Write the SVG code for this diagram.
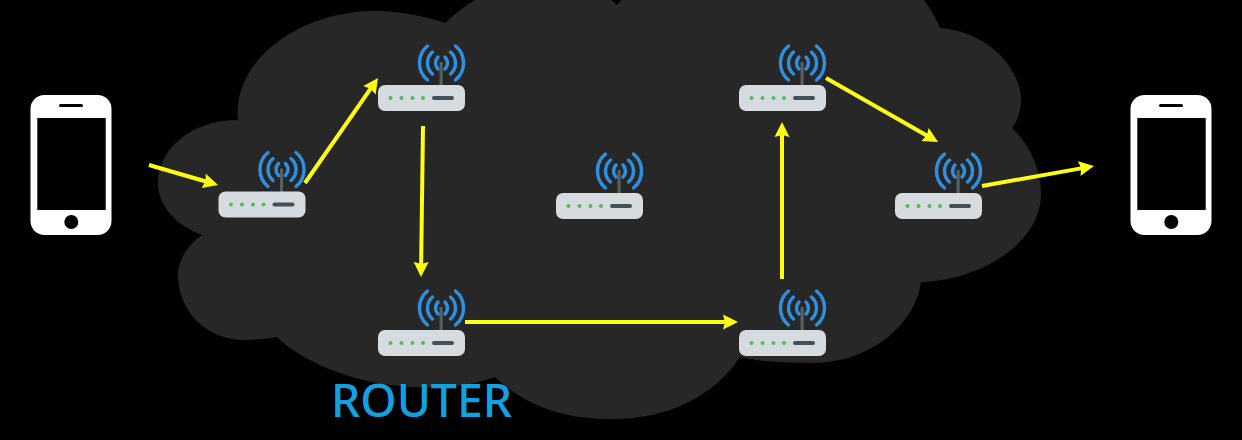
<svg xmlns="http://www.w3.org/2000/svg" width="1242" height="440" viewBox="0 0 1242 440">
<style>
.arc{fill:none;stroke:#2f90e2;stroke-width:3.4;stroke-linecap:round}
.conn{fill:none;stroke:#ffff14;stroke-width:4;marker-end:url(#ah)}
.phone{fill:#fff}
.hole{fill:#000}
.led{fill:#55b85f}
</style>
<defs>
<marker id="ah" markerUnits="userSpaceOnUse" markerWidth="17" markerHeight="17" refX="6" refY="8.500" orient="auto">
<path d="M0 1L15 8.500L0 16L2 8.500Z" fill="#ffff14"/>
</marker>
<g id="router">
<rect x="61.500" y="-23" width="3.200" height="24" fill="#56605f"/>
<path class="arc" d="M60 -28A8.500 8.500 0 0 0 60 -16M67 -28A8.500 8.500 0 0 1 67 -16"/>
<path class="arc" d="M54.500 -33A14.600 14.600 0 0 0 54.500 -11M72.500 -33A14.600 14.600 0 0 1 72.500 -11"/>
<path class="arc" d="M49.500 -39A22 22 0 0 0 49.500 -5M77.500 -39A22 22 0 0 1 77.500 -5"/>
<rect x="0" y="0" width="87" height="26" rx="7" fill="#d6dbdf"/>
<circle class="led" cx="12.500" cy="13" r="2"/>
<circle class="led" cx="23.500" cy="13" r="2"/>
<circle class="led" cx="34.500" cy="13" r="2"/>
<circle class="led" cx="45" cy="13" r="2"/>
<rect x="54" y="11" width="22" height="4" rx="2" fill="#445058"/>
</g>
<g id="phone">
<rect x="0" y="0" width="81" height="140" rx="14" class="phone"/>
<rect x="6.800" y="23" width="68.400" height="92" class="hole"/>
<rect x="28.500" y="9" width="24" height="3" rx="1.500" class="hole"/>
<circle cx="40.800" cy="127" r="7" class="hole"/>
</g>
</defs>
<rect width="1242" height="440" fill="#000"/>
<path id="cloud" fill="#272727" d="M238 120C232 60 300 11 375 11C400 11 425 16 445 23C465 5 480 -5 500 -10L600 -10L617 5L630 -10L915 -10C925 0 935 15 940 28C990 32 1021 70 1021 100C1021 110 1018 120 1012 128C1030 145 1041 170 1041 195C1041 240 985 280 921 282C915 325 870 363 812 363C785 363 760 362 740 357C715 395 670 419 612 419C570 419 530 410 495 377C460 390 420 388 400 386C350 382 300 360 277 337C265 339 255 340 245 340C205 340 178 310 178 275C178 260 188 245 202 235C175 225 158 205 158 183C158 150 190 120 238 120Z"/>
<g id="phone-left"><use href="#phone" x="30.500" y="95"/></g>
<g id="phone-right"><use href="#phone" x="1130.500" y="95"/></g>
<g id="router-1"><use href="#router" x="218.500" y="191.500"/></g>
<g id="router-2"><use href="#router" x="378" y="85"/></g>
<g id="router-3"><use href="#router" x="378" y="330"/></g>
<g id="router-4"><use href="#router" x="556" y="193"/></g>
<g id="router-5"><use href="#router" x="739" y="85"/></g>
<g id="router-6"><use href="#router" x="739" y="330"/></g>
<g id="router-7"><use href="#router" x="895" y="193"/></g>
<g id="connectors">
<path class="conn" d="M149 165L209.400 182.500"/>
<path class="conn" d="M305 183L372.900 85.400"/>
<path class="conn" d="M423 126L421.100 268"/>
<path class="conn" d="M465 322L729 322"/>
<path class="conn" d="M782 279L782 131"/>
<path class="conn" d="M826 78L930.200 137.500"/>
<path class="conn" d="M982 186L1085.100 167.600"/>
</g>
<text id="label" x="331" y="417" font-family="'Noto Sans','Open Sans',sans-serif" font-size="46" font-weight="500" fill="#12a0e0" textLength="181" lengthAdjust="spacingAndGlyphs">ROUTER</text>
</svg>
